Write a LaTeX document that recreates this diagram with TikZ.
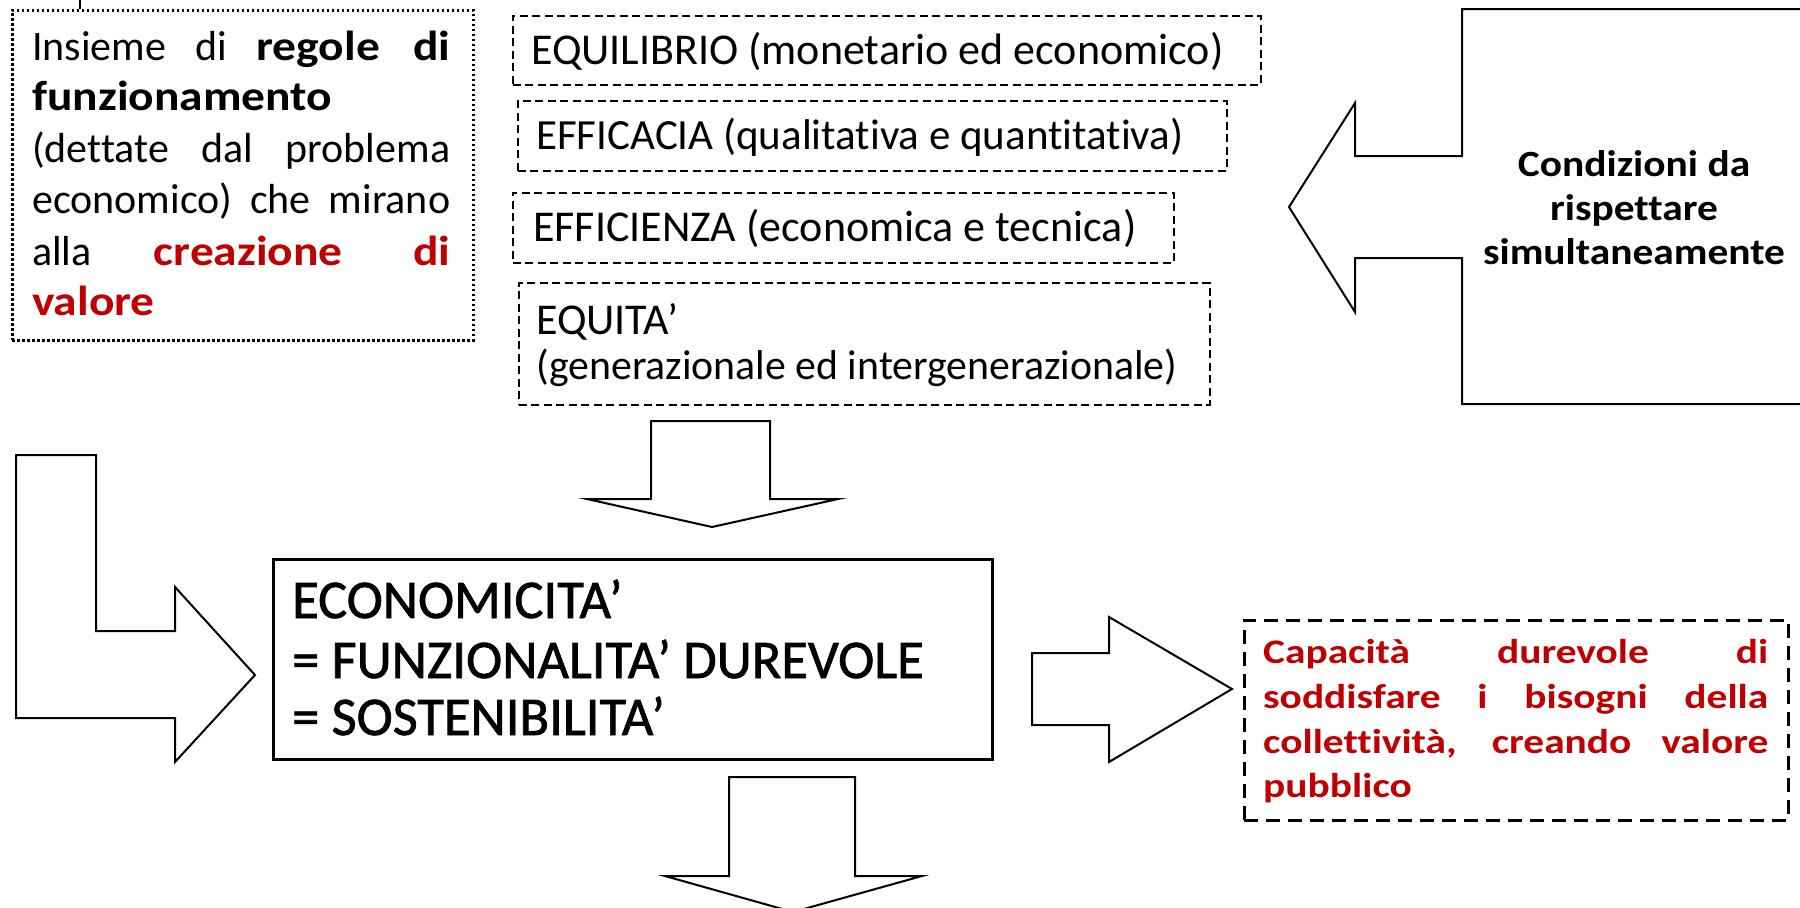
\documentclass[tikz,border=0pt]{standalone}
\usepackage{fontspec}
\setmainfont{Carlito}[Ligatures=NoCommon]
\newfontfamily\gillwide{Carlito}[Ligatures=NoCommon, FakeStretch=1.13]
\newfontfamily\gillcond{Carlito}[Ligatures=NoCommon, FakeStretch=1.12]
\newfontfamily\gillred{Carlito}[Ligatures=NoCommon, FakeStretch=1.2]
\newfontfamily\gillheavy{Carlito}[Ligatures=NoCommon, FakeBold=1.3]
\definecolor{darkred}{RGB}{192,0,0}
\begin{document}
\begin{tikzpicture}[x=1pt,y=-1pt,
  solidbox/.style={draw=black, line width=2pt, inner sep=0pt, anchor=north west},
  dashbox/.style={draw=black, line width=1.8pt, dash pattern=on 8pt off 4.5pt, inner sep=0pt, anchor=north west},
  dotbox/.style={draw=black, line width=2.5pt, dash pattern=on 2.5pt off 2.5pt, inner sep=0pt, anchor=north west},
  redbox/.style={draw=black, line width=2.8pt, dash pattern=on 14pt off 8pt, inner sep=0pt, anchor=north west},
  blockarrow/.style={draw=black, line width=2pt, fill=white, line join=miter},
  line/.style={anchor=base west, inner sep=0pt},
  leftfont/.style={font=\fontsize{42}{50}\selectfont},
  condfont/.style={font=\fontsize{44}{52}\selectfont},
  econfont/.style={font=\gillheavy\fontsize{54.5}{60}\selectfont},
  redfont/.style={font=\gillred\fontsize{34.5}{40}\selectfont\bfseries, text=darkred},
  rightfont/.style={font=\gillcond\fontsize{37}{44}\selectfont\bfseries}
]
\fill[white] (0,0) rectangle (1800,908);
\useasboundingbox (0,0) rectangle (1800,908);

% boxes
\node[dotbox, minimum width=461pt, minimum height=330pt] (regole) at (11,9) {};
\node[dashbox, minimum width=748pt, minimum height=69pt] (equil) at (512,15) {};
\node[dashbox, minimum width=709pt, minimum height=70pt] (effic) at (517,100) {};
\node[dashbox, minimum width=661pt, minimum height=70pt] (effien) at (512,192) {};
\node[dashbox, minimum width=691pt, minimum height=122pt] (equita) at (518,282) {};
\node[solidbox, line width=2.5pt, minimum width=719pt, minimum height=200pt] (econ) at (272,558) {};
\node[redbox, minimum width=544pt, minimum height=200pt] (capac) at (1243,619) {};

% tick above left box
\coordinate (tick) at (80,0);
\draw[line width=1.5pt] (tick) -- (tick |- regole.north);

% left box text
\node[line, leftfont] (r1) at (32,60) {\makebox[418pt][s]{Insieme di {\gillwide\bfseries regole di}}};
\node[line, leftfont] (r2) at (32,110) {{\gillwide\bfseries funzionamento}};
\node[line, leftfont] (r3) at (32,162) {\makebox[418pt][s]{(dettate dal problema}};
\node[line, leftfont] (r4) at (32,213) {\makebox[418pt][s]{economico) che mirano}};
\node[line, leftfont] (r5) at (32,265) {\makebox[418pt][s]{alla \textcolor{darkred}{\gillwide\bfseries creazione di}}};
\node[line, leftfont] (r6) at (32,315) {\textcolor{darkred}{\gillwide\bfseries valore}};

% condition boxes text
\node[line, condfont] (t1) at (531,64) {EQUILIBRIO (monetario ed economico)};
\node[line, condfont, font=\fontsize{43}{52}\selectfont] (t2) at (536,149) {EFFICACIA (qualitativa e quantitativa)};
\node[line, condfont] (t3) at (533,241) {EFFICIENZA (economica e tecnica)};
\node[line, condfont] (t4a) at (536,334) {EQUITA’};
\node[line, condfont, font=\fontsize{41.8}{52}\selectfont] (t4b) at (536,379) {(generazionale ed intergenerazionale)};

% right callout
\draw[blockarrow] (1812,9) -- (1462,9) -- (1462,156) -- (1355,156) -- (1355,103)
  -- (1289,207) -- (1355,312) -- (1355,258) -- (1462,258) -- (1462,404) -- (1812,404);
\node[anchor=base, inner sep=0pt, rightfont] (c1) at (1634,176) {Condizioni da};
\node[anchor=base, inner sep=0pt, rightfont] (c2) at (1634,220) {rispettare};
\node[anchor=base, inner sep=0pt, rightfont] (c3) at (1634,264) {simultaneamente};

% top down arrow
\draw[blockarrow] (651,421) -- (770,421) -- (770,499) -- (838,499) -- (712,527)
  -- (587,499) -- (651,499) -- cycle;

% left L arrow
\draw[blockarrow] (16,455) -- (96,455) -- (96,631) -- (175,631) -- (175,587)
  -- (255,675) -- (175,762) -- (175,718) -- (16,718) -- cycle;

% econ text
\node[line, econfont] (e1) at (292,618) {ECONOMICITA’};
\node[line, econfont] (e2) at (292,678) {= FUNZIONALITA’ DUREVOLE};
\node[line, econfont] (e3) at (292,735) {= SOSTENIBILITA’};

% right arrow
\draw[blockarrow] (1032,653) -- (1109,653) -- (1109,617) -- (1232,689)
  -- (1109,762) -- (1109,725) -- (1032,725) -- cycle;

% capacita text
\node[line, redfont] (p1) at (1263,663) {\makebox[505pt][s]{Capacità durevole di}};
\node[line, redfont] (p2) at (1263,708) {\makebox[505pt][s]{soddisfare i bisogni della}};
\node[line, redfont] (p3) at (1263,753) {\makebox[505pt][s]{collettività, creando valore}};
\node[line, redfont] (p4) at (1263,797) {pubblico};

% bottom down arrow
\draw[blockarrow] (729,777) -- (855,777) -- (855,876) -- (922,876) -- (793,912)
  -- (665,876) -- (729,876) -- cycle;
\end{tikzpicture}
\end{document}
